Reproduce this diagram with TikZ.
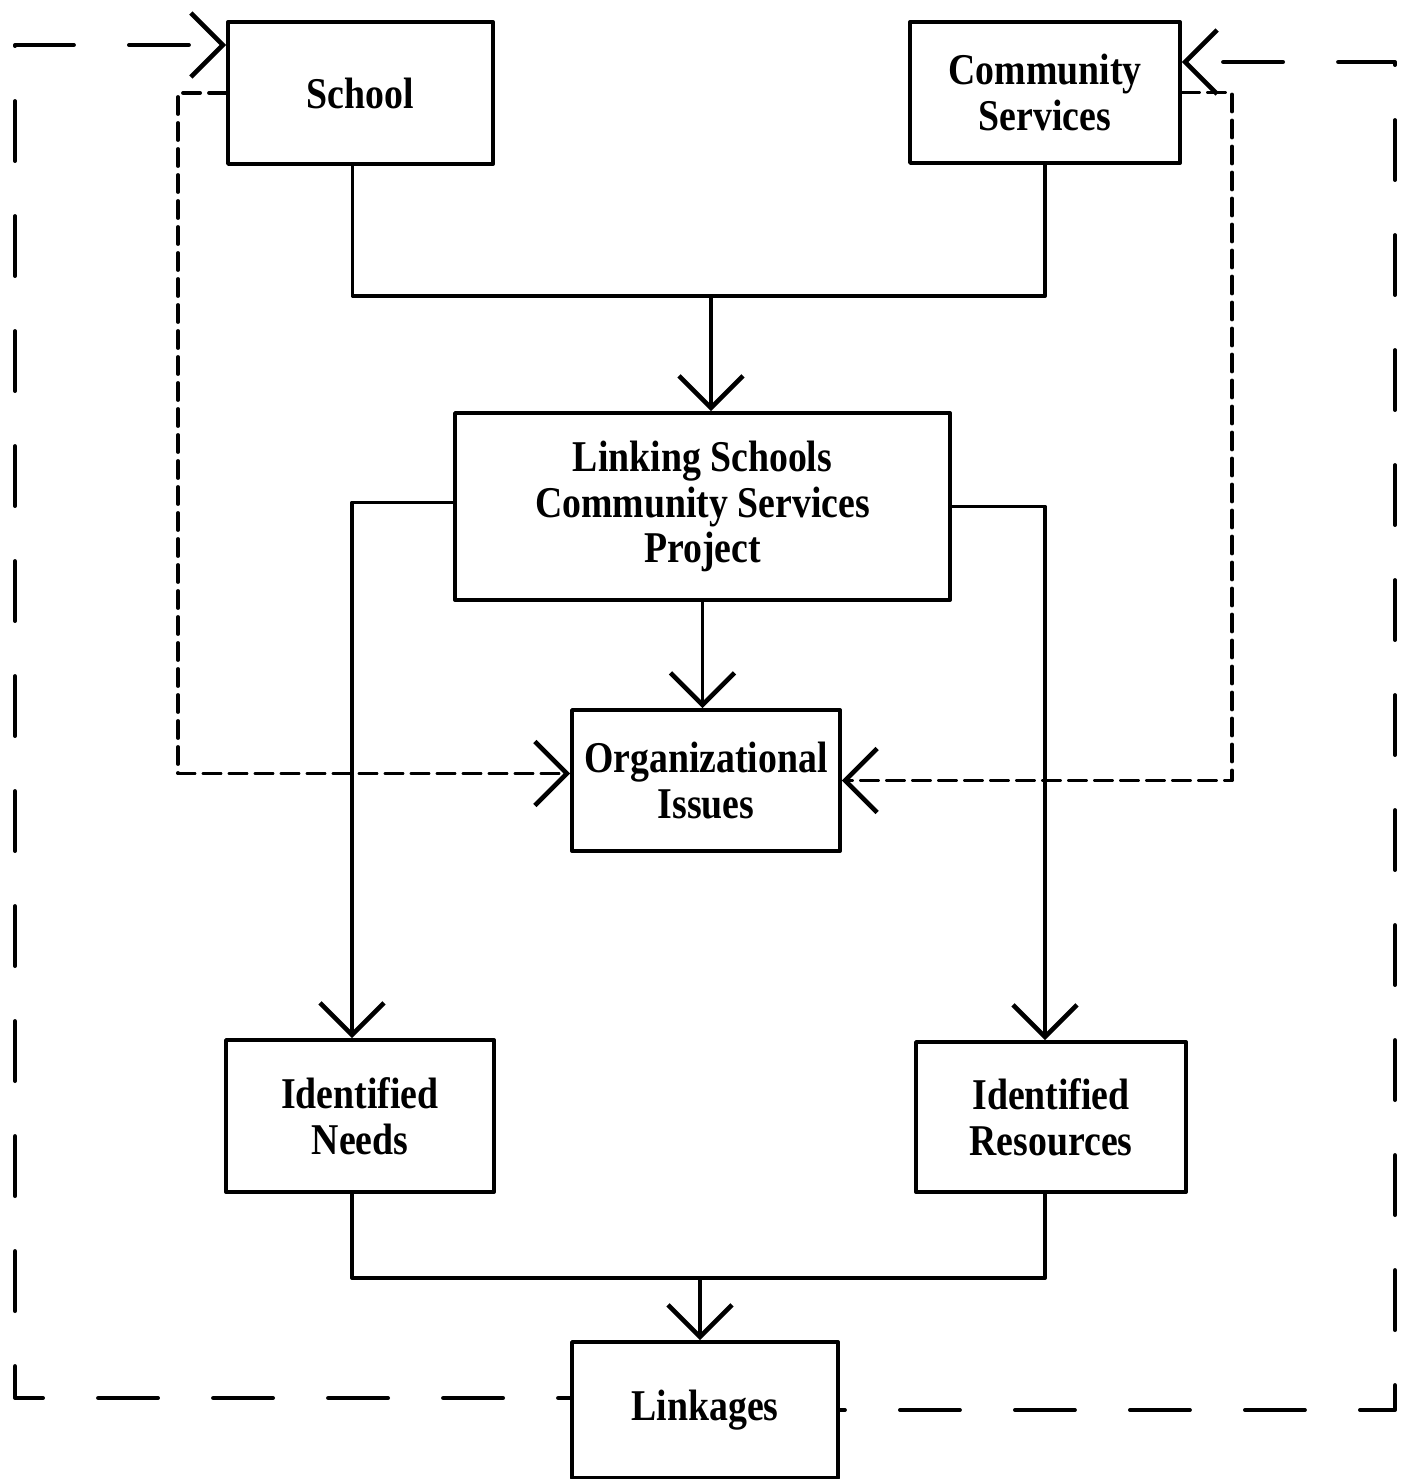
\documentclass[tikz,border=0pt]{standalone}
\usepackage{fontspec}
\setmainfont{Liberation Serif}[FakeStretch=0.86]
\usetikzlibrary{arrows.meta}

\tikzset{
	box/.style={draw,line width=1.1pt,align=center,inner sep=2pt,
		font=\fontsize{12.5}{13}\selectfont\bfseries},
	link/.style={line width=1.1pt},
	dashsmall/.style={line width=1.1pt,dash pattern=on 0.17cm off 0.09cm},
	dashlong/.style={line width=1.1pt,dash pattern=on 0.6cm off 0.55cm},
}

\begin{document}
\begin{tikzpicture}[line cap=round,line join=round,>={Straight Barb[length=0.32cm,width=0.64cm,line width=1.3pt]},x=1.0cm,y=1.0cm]
			\useasboundingbox (0,0) rectangle (14.19,-14.79);
			% boxes
			\node[box,minimum width=2.65cm,minimum height=1.42cm] (school) at (3.605,-0.93) {School};
			\node[box,minimum width=2.70cm,minimum height=1.41cm] (commserv) at (10.45,-0.925) {Community\\Services};
			\node[box,minimum width=4.95cm,minimum height=1.87cm] (project) at (7.025,-5.065) {Linking Schools\\Community Services\\Project};
			\node[box,minimum width=2.68cm,minimum height=1.41cm] (orgiss) at (7.06,-7.805) {Organizational\\Issues};
			\node[box,minimum width=2.68cm,minimum height=1.52cm] (needs) at (3.60,-11.16) {Identified\\Needs};
			\node[box,minimum width=2.70cm,minimum height=1.50cm] (resources) at (10.51,-11.17) {Identified\\Resources};
			\node[box,minimum width=2.66cm,minimum height=1.36cm] (linkages) at (7.05,-14.10) {Linkages};
			\coordinate (topjoin) at (7.11,-2.96);
			\coordinate (botjoin) at (7.00,-12.78);
			\coordinate (loopL) at (0.15,-0.45);
			\coordinate (loopR) at (13.95,-0.62);
			% solid connectors
			\draw [link] ([xshift=-0.08cm]school.south) |- (topjoin);
			\draw [link] (commserv.south) |- (topjoin);
			\draw [link,->] (topjoin) -- (topjoin |- project.north);
			\draw [link,->] ([yshift=0.04cm]project.west) -| ([xshift=-0.08cm]needs.north);
			\draw [link,->] (project.east) -| ([xshift=-0.06cm]resources.north);
			\draw [link,->] (project.south) -- (project.south |- orgiss.north);
			\draw [link] ([xshift=-0.08cm]needs.south) |- (botjoin);
			\draw [link] ([xshift=-0.06cm]resources.south) |- (botjoin);
			\draw [link,->] (botjoin) -- (botjoin |- linkages.north);
			% dashed feedback
			\draw [dashsmall,->] (school.west) -- ++(-0.48,0) |- ([yshift=0.07cm]orgiss.west);
			\draw [dashsmall,->] (commserv.east) -- ++(0.5,0) |- (orgiss.east);
			\draw [dashlong,dash phase=0.48cm,->] ([yshift=0.12cm]linkages.west) -| (loopL) -- (loopL -| school.west);
			\draw [dashlong,dash phase=0.55cm,->] (linkages.east) -| (loopR) -- (loopR -| commserv.east);
		\end{tikzpicture}
\end{document}
